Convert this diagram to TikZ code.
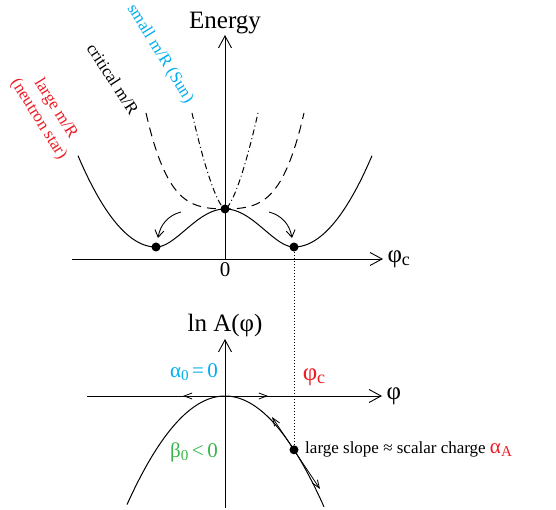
\documentclass[tikz,border=0pt]{standalone}
\usepackage{fontspec}
\setmainfont{Liberation Serif}
\usetikzlibrary{positioning, arrows.meta}
\definecolor{nsred}{RGB}{237,28,36}
\definecolor{suncyan}{RGB}{0,174,239}
\definecolor{betagreen}{RGB}{57,181,74}
\newcommand{\lowidx}[1]{\raisebox{-0.3ex}{\scalebox{0.72}{#1}}}
\tikzset{
  ax/.style={line width=0.9pt, -{Straight Barb[length=12pt,width=13pt,line width=0.9pt]}},
  cv/.style={line width=1pt},
  crit/.style={line width=1pt, dash pattern=on 9pt off 6pt},
  sun/.style={line width=1pt, dash pattern=on 6pt off 3pt on 1pt off 3pt},
  a/.style={line width=0.9pt, -{Straight Barb[length=7pt,width=9pt,line width=0.9pt]}},
  ta/.style={line width=0.8pt, {Straight Barb[length=8pt,width=6pt,line width=0.8pt]}-{Straight Barb[length=8pt,width=6pt,line width=0.8pt]}},
  dot/.style={circle, fill, inner sep=0pt, minimum size=9pt},
  big/.style={font=\fontsize{25}{28}\selectfont},
  lab/.style={font=\fontsize{21}{24}\selectfont},
  d/.style={font=\fontsize{17}{20}\selectfont, align=center},
}

\begin{document}
\begin{tikzpicture}[x=1pt, y=1pt]
\useasboundingbox (0,0) rectangle (556,510);

% ═══════════════════════════════════════════════════════════════
% (top) energy of the star against the central scalar field
% ═══════════════════════════════════════════════════════════════
\coordinate (o1) at (225,251);
\coordinate (ex) at (72,251);
\coordinate (ex2) at (383,251);
\coordinate (ey) at (225,475);
\draw[ax] (ex) -- (ex2);
\draw[ax] (o1) -- (ey);
\node[big, above=-2pt of ey] (energy) {Energy};
\node[big, right=1pt of ex2] (phic) {φ\lowidx{c}};
\node[lab, below=0pt of o1] (zero) {0};

% solid double well
\draw[cv] plot[domain=-147:-69, samples=40] ({225+\x},{263+0.015*(\x+69)*(\x+69)})
  -- plot[domain=-69:69, samples=80] ({225+\x},{301-38*(2*(\x/69)^2-(\x/69)^4)})
  -- plot[domain=69:147, samples=40] ({225+\x},{263+0.015*(\x-69)*(\x-69)});
% critical
\draw[crit] plot[domain=-79:79, samples=80] ({225+\x},{301+96*(0.2*(\x/79)^2+0.8*(\x/79)^4)});
% small compactness
\draw[sun] plot[domain=-33:33, samples=60] ({225+\x},{301+96*abs(\x/33)*sqrt(abs(\x/33))});

\node[dot] (hump) at (225,301) {};
\node[dot] (lmin) at (156,263) {};
\node[dot] (rmin) at (294,263) {};

\coordinate (la) at (181,298);
\coordinate (lb) at (158,272);
\coordinate (ra) at (269,298);
\coordinate (rb) at (292,272);
\draw[a] (la) to[out=195, in=80] (lb);
\draw[a] (ra) to[out=-15, in=100] (rb);

\node[d, text=suncyan, rotate=-58.5] (small) at (160,456) {small m/R (Sun)};
\node[d, rotate=-57] (crit) at (113,431) {critical m/R};
\node[d, text=nsred, rotate=-58] (large) at (47,396) {large m/R\\(neutron star)};

% ═══════════════════════════════════════════════════════════════
% (bottom) coupling function ln A
% ═══════════════════════════════════════════════════════════════
\coordinate (o2) at (225,114);
\coordinate (lx) at (87,114);
\coordinate (lx2) at (382,114);
\coordinate (ly0) at (225,2);
\coordinate (ly) at (225,171);
\draw[ax] (lx) -- (lx2);
\draw[ax] (ly0) -- (ly);
\node[big, above=-1pt of ly] (lnA) {ln A(φ)};
\node[big, right=1pt of lx2] (phi) {φ};

\draw[cv] plot[domain=-98:99, samples=80] ({225+\x},{114-0.0113*\x*\x});

\coordinate (tl) at (183,114);
\coordinate (tr) at (268,114);
\draw[ta] (tl) -- (tr);

\node[dot] (star) at (294,60.2) {};
\coordinate (sl) at (272,93);
\coordinate (sr) at (320,21);
\draw[ta] (sl) -- (sr);

\draw[line width=1pt, dash pattern=on 1.2pt off 1.8pt] (rmin) -- (star);

\node[lab, text=suncyan] (alpha0) at (194,138) {α\lowidx{0}\,=\,0};
\node[big, text=nsred] (phicb) at (314,133) {φ\lowidx{c}};
\node[lab, text=betagreen] (beta0) at (194,58) {β\lowidx{0}\,<\,0};
\node[d, right=3pt of star] (slope)
  {large slope ≈ scalar charge {\color{nsred}\fontsize{21}{24}\selectfont α\lowidx{A}}};

\end{tikzpicture}
\end{document}
